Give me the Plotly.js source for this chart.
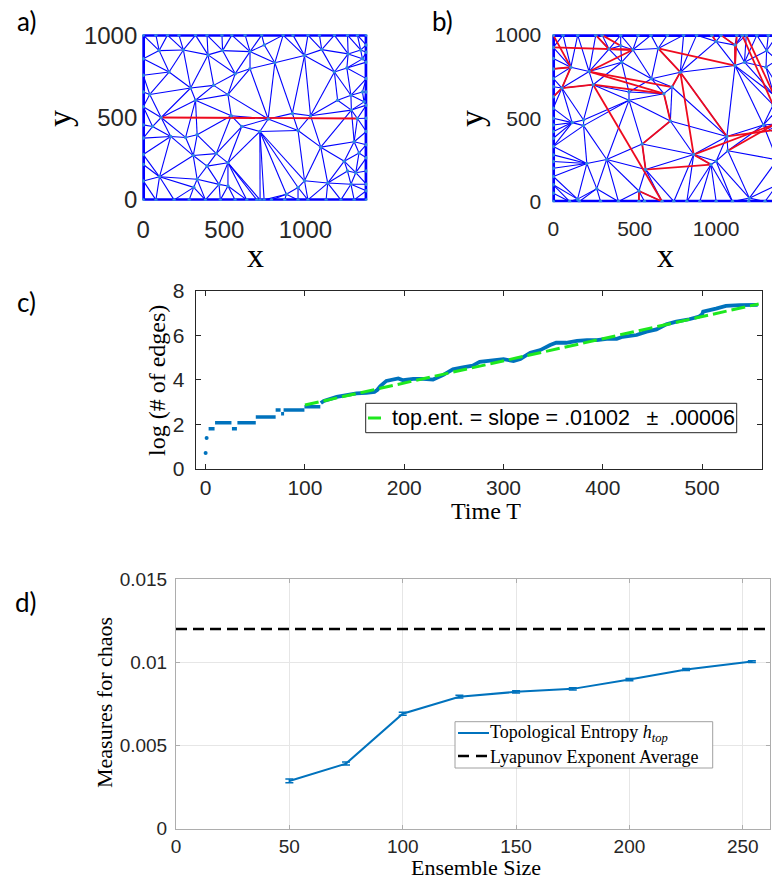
<!DOCTYPE html>
<html><head><meta charset="utf-8">
<script src="https://cdn.plot.ly/plotly-3.0.1.min.js"></script>
<style>html,body{margin:0;padding:0;background:#fff;}</style>
</head><body>
<div id="chart" style="width:772px;height:879px;"></div>
<script>
// ---------------- DATA ----------------
// Panel a: domain size and mesh vertices
const aW = 1375, aH = 1000;
const aInterior = [
 [98,906],[247,910],[399,880],[489,906],[658,900],[746,940],[811,832],[994,876],[1100,912],[1255,800],[1340,910],[1263,886],[1351,856],
 [159,776],[292,679],[434,695],[567,766],[658,796],[522,639],[322,605],[40,640],[1178,776],[1280,635],[1198,605],[1351,655],
 [110,500],[542,511],[770,491],[919,525],[1031,511],[1283,545],[1320,494],[1361,595],
 [57,445],[169,385],[261,379],[332,395],[607,445],[719,415],[954,421],[450,281],[308,269],[1094,320],[1300,353],[1239,235],[1330,285],
 [393,205],[522,225],[467,94],[332,125],[994,116],[1137,102],[1259,175],[1310,165],[1280,95],[954,75],[882,34],[522,84],[100,140],[311,76]
];
const aTopX    = [78,149,220,322,393,485,546,628,730,862,923,1015,1086,1178,1259,1320];
const aBottomX = [78,190,283,383,475,566,638,700,720,745,790,872,954,1015,1127,1218,1300];
const aLeftY   = [115,215,275,375,455,565,655,756,856];
const aRightY  = [55,95,175,255,335,415,495,575,655,736,836,896,940];
const aRedX = [110, 1320];
const aRedY = [500, 494];

// Panel b: domain size and mesh vertices
const bW = 1375, bH = 1000;
const bInterior = [
 [108,807],[53,682],[245,702],[220,781],[489,912],[679,648],[729,688],[719,484],[546,345],[567,192],[968,222],[644,920],[780,777],
 [862,282],[1066,391],[1072,305],[1116,817],[526,63],[342,916],[414,936],
 [116,474],[186,490],[186,456],[206,228],[328,252],[465,658],[465,609],[603,738],[420,837],[1174,837],[1306,807],[1310,906],
 [1290,460],[1204,20],[149,14],[267,77],[1000,242],[1360,465],[1365,430],[1350,580],[1355,640],[1000,962],[1116,940]
];
const bTopX    = [60,150,261,300,414,520,600,700,800,880,974,1030,1127,1160,1185,1250,1320];
const bBottomX = [100,160,290,400,526,560,668,740,820,900,1000,1100,1200,1300];
const bLeftY   = [50,100,150,200,240,280,330,380,420,460,500,560,629,690,740,797,860,926];
const bRightY  = [100,250,400,550,700,850];
const bRedPaths = [
 [[0,926],[489,912]],
 [[0,1000],[108,807],[53,682],[0,629]],
 [[0,797],[108,807]],
 [[53,682],[245,702],[679,648],[719,484],[546,345],[567,192],[968,222]],
 [[245,702],[668,0]],
 [[220,781],[489,912]],
 [[220,781],[729,688]],
 [[220,781],[679,648]],
 [[644,920],[1116,817]],
 [[644,920],[780,777],[729,688]],
 [[780,777],[862,282],[968,222]],
 [[780,777],[1066,391]],
 [[862,282],[1360,465]],
 [[1066,391],[1365,430]],
 [[1072,305],[1360,465]],
 [[974,1000],[1000,962]],
 [[1030,1000],[1116,940],[1116,817],[1127,1000]],
 [[1160,1000],[1350,580]],
 [[1185,1000],[1355,640]],
 [[526,63],[668,0]],
 [[526,63],[526,0]],
 [[261,1000],[342,916],[489,912]],
 [[300,1000],[414,936]]
];

// Panel c: log(# of edges) vs time
const cDotT = [0, 1];
const cDotV = [0.70, 1.38];
const cStepStart = [3, 9.5, 26.5, 32, 50.5, 70.5, 76, 78.5, 99.5];
const cStepEnd   = [9, 26, 31.5, 50.5, 70.5, 75.5, 79, 99.5, 115.5];
const cStepVal   = [1.79, 2.06, 1.79, 2.06, 2.32, 2.64, 2.47, 2.64, 2.78];
const cT = [116,119,125,132,142,152,162,170,173,176,182,189,194,199,209,219,229,239,249,259,269,276,290,300,310,317,327,337,347,353,363,374,384,394,404,414,420,434,444,454,464,474,487,497,500,501,514,524,538,548,556];
const cV = [2.95,3.05,3.13,3.23,3.31,3.39,3.41,3.45,3.55,3.72,3.95,4.00,4.06,3.98,4.04,4.04,4.01,4.21,4.47,4.56,4.64,4.81,4.89,4.93,4.85,4.94,5.22,5.34,5.57,5.67,5.67,5.76,5.79,5.79,5.85,5.85,5.94,6.02,6.17,6.27,6.50,6.62,6.73,6.85,6.95,7.07,7.21,7.33,7.37,7.37,7.38];
const cFitT = [100, 557];
const cFitV = [2.86, 7.42];
const cFitName = "top.ent. = slope = .01002 \u2002\u00b1\u2002.00006";

// Panel d: measures for chaos vs ensemble size
const dX   = [50, 75, 100, 125, 150, 175, 200, 225, 254];
const dY   = [0.00287, 0.00391, 0.00691, 0.00793, 0.00822, 0.00840, 0.00896, 0.00956, 0.01004];
const dErr = [0.00011, 0.00009, 0.00009, 0.00008, 0.00007, 0.00007, 0.00007, 0.00006, 0.00005];
const lyapX = [0, 262];
const lyapY = [0.012, 0.012];
const dName1 = "Topological Entropy <i>h<sub>top</sub></i>";
const dName2 = "Lyapunov Exponent Average";

// ---------------- HELPERS ----------------
function buildPoints(interior, topX, bottomX, leftY, rightY, W, H){
  const pts = [[0,0],[0,H],[W,0],[W,H]];
  topX.forEach(x=>pts.push([x,H]));
  bottomX.forEach(x=>pts.push([x,0]));
  leftY.forEach(y=>pts.push([0,y]));
  rightY.forEach(y=>pts.push([W,y]));
  interior.forEach(p=>pts.push(p));
  return pts;
}
function delaunayEdges(pts){
  const n = pts.length;
  const P = pts.map(p=>[p[0],p[1]]);
  let minX=Infinity,minY=Infinity,maxX=-Infinity,maxY=-Infinity;
  P.forEach(p=>{minX=Math.min(minX,p[0]);maxX=Math.max(maxX,p[0]);minY=Math.min(minY,p[1]);maxY=Math.max(maxY,p[1]);});
  const d=Math.max(maxX-minX,maxY-minY), mx=(minX+maxX)/2, my=(minY+maxY)/2;
  P.push([mx-40*d,my-30*d],[mx,my+40*d],[mx+40*d,my-30*d]);
  function circ(a,b,c){
    const ax=P[a][0],ay=P[a][1],bx=P[b][0],by=P[b][1],cx=P[c][0],cy=P[c][1];
    const D=2*(ax*(by-cy)+bx*(cy-ay)+cx*(ay-by));
    if(Math.abs(D)<1e-9) return {a,b,c,x:0,y:0,r2:Infinity};
    const A=ax*ax+ay*ay,B=bx*bx+by*by,C=cx*cx+cy*cy;
    const ux=(A*(by-cy)+B*(cy-ay)+C*(ay-by))/D;
    const uy=(A*(cx-bx)+B*(ax-cx)+C*(bx-ax))/D;
    return {a,b,c,x:ux,y:uy,r2:(ax-ux)*(ax-ux)+(ay-uy)*(ay-uy)};
  }
  let tris=[circ(n,n+1,n+2)];
  for(let i=0;i<n;i++){
    const px=P[i][0],py=P[i][1];
    const keep=[],ec=new Map();
    for(const t of tris){
      const dd=(px-t.x)*(px-t.x)+(py-t.y)*(py-t.y);
      if(dd<t.r2){
        [[t.a,t.b],[t.b,t.c],[t.c,t.a]].forEach(([u,v])=>{const k=u<v?u+','+v:v+','+u;ec.set(k,(ec.get(k)||0)+1);});
      } else keep.push(t);
    }
    tris=keep;
    for(const [k,c] of ec){ if(c===1){const [u,v]=k.split(',').map(Number); tris.push(circ(u,v,i));} }
  }
  const es=new Set();
  for(const t of tris){
    if(t.a>=n||t.b>=n||t.c>=n) continue;
    [[t.a,t.b],[t.b,t.c],[t.c,t.a]].forEach(([u,v])=>es.add(u<v?u+','+v:v+','+u));
  }
  return [...es].map(k=>k.split(',').map(Number));
}
function meshTraces(pts, W, H, xa, ya, redPaths){
  const edges = delaunayEdges(pts);
  const ix=[],iy=[],bx=[],by=[];
  edges.forEach(([u,v])=>{
    const p=pts[u],q=pts[v];
    const onB=(p[0]===0&&q[0]===0)||(p[0]===W&&q[0]===W)||(p[1]===0&&q[1]===0)||(p[1]===H&&q[1]===H);
    if(onB){bx.push(p[0],q[0],null);by.push(p[1],q[1],null);}
    else {ix.push(p[0],q[0],null);iy.push(p[1],q[1],null);}
  });
  const tr=[
    {x:ix,y:iy,xaxis:xa,yaxis:ya,mode:'lines',line:{color:'#0000ff',width:1.1},showlegend:false,hoverinfo:'skip'},
    {x:bx,y:by,xaxis:xa,yaxis:ya,mode:'lines',line:{color:'#0000ff',width:3.5},showlegend:false,hoverinfo:'skip'}
  ];
  const rx=[],ry=[];
  redPaths.forEach(path=>{path.forEach(p=>{rx.push(p[0]);ry.push(p[1]);});rx.push(null);ry.push(null);});
  tr.push({x:rx,y:ry,xaxis:xa,yaxis:ya,mode:'lines',line:{color:'#ee0a1e',width:1.8},showlegend:false,hoverinfo:'skip'});
  tr.push({x:pts.map(p=>p[0]),y:pts.map(p=>p[1]),xaxis:xa,yaxis:ya,mode:'markers',
    marker:{color:'#2f8ae0',size:3.5},showlegend:false,hoverinfo:'skip'});
  return tr;
}

// ---------------- TRACES ----------------
const aPts = buildPoints(aInterior, aTopX, aBottomX, aLeftY, aRightY, aW, aH);
const bPts = buildPoints(bInterior, bTopX, bBottomX, bLeftY, bRightY, bW, bH);
const traces = [];
meshTraces(aPts, aW, aH, 'x', 'y', [aRedX.map((x,i)=>[x,aRedY[i]])]).forEach(t=>traces.push(t));
meshTraces(bPts, bW, bH, 'x2', 'y2', bRedPaths).forEach(t=>traces.push(t));

// panel c
const sx=[],sy=[];
cStepStart.forEach((s,i)=>{sx.push(s,cStepEnd[i],null);sy.push(cStepVal[i],cStepVal[i],null);});
const cBlue='#0072BD';
const cGreen='#1ee81e';
traces.push({x:sx,y:sy,xaxis:'x3',yaxis:'y3',mode:'lines',line:{color:cBlue,width:3.5},showlegend:false,hoverinfo:'skip'});
traces.push({x:cT,y:cV,xaxis:'x3',yaxis:'y3',mode:'lines',line:{color:cBlue,width:3.8},showlegend:false,hoverinfo:'skip'});
traces.push({x:cDotT,y:cDotV,xaxis:'x3',yaxis:'y3',mode:'markers',marker:{color:cBlue,size:4},showlegend:false,hoverinfo:'skip'});
traces.push({x:cFitT,y:cFitV,xaxis:'x3',yaxis:'y3',mode:'lines',name:cFitName,showlegend:false,
  line:{color:cGreen,width:3,dash:'14px,5px'},hoverinfo:'skip'});

// panel d
traces.push({x:dX,y:dY,xaxis:'x4',yaxis:'y4',mode:'lines',name:dName1,showlegend:false,
  line:{color:'#0072BD',width:2},
  error_y:{type:'data',array:dErr,visible:true,color:'#0072BD',thickness:1.5,width:4},hoverinfo:'skip'});
traces.push({x:lyapX,y:lyapY,xaxis:'x4',yaxis:'y4',mode:'lines',name:dName2,showlegend:false,
  line:{color:'#000000',width:2.6,dash:'11px,6px'},hoverinfo:'skip'});

// ---------------- LAYOUT ----------------
const W=772,H=879;
const fx=p=>p/W, fy=p=>1-p/H;
const sans='Liberation Sans, Arial, sans-serif';
const serif='Liberation Serif, Times New Roman, serif';
const label='Lato, Liberation Sans, sans-serif';
const tc='#262626';
function meshAxis(dom, rng, size, standoff, anchor){
  return {domain:dom,range:rng,tickvals:[0,500,1000],ticktext:['0','500','1000'],showgrid:false,zeroline:false,
    showline:false,ticks:'',tickfont:{family:sans,size:size,color:tc},ticklabelstandoff:standoff,anchor:anchor,fixedrange:true};
}
function ann(text,px,py,size,family,angle,xanchor){
  return {text:text,x:fx(px),y:fy(py),xref:'paper',yref:'paper',xanchor:xanchor||'center',yanchor:'middle',
    showarrow:false,textangle:angle||0,borderpad:0,font:{family:family,size:size,color:'#000'}};
}
function rect(x0,y0,x1,y1,col){
  return {type:'rect',xref:'paper',yref:'paper',x0:fx(x0),x1:fx(x1),y0:fy(y1),y1:fy(y0),
    line:{color:col,width:1},fillcolor:'#fff',layer:'above'};
}
function seg(x0,x1,y,col,w,dash){
  return {type:'line',xref:'paper',yref:'paper',x0:fx(x0),x1:fx(x1),y0:fy(y),y1:fy(y),
    line:{color:col,width:w,dash:dash||'solid'},layer:'above'};
}
const layout={
  width:W,height:H,margin:{l:0,r:0,t:0,b:0},paper_bgcolor:'#fff',plot_bgcolor:'#fff',
  font:{family:sans,color:tc},hovermode:false,showlegend:false,
  xaxis: meshAxis([fx(142.3),fx(367.3)],[-6,1381],24,12,'y'),
  yaxis: meshAxis([fy(200.7),fy(34.3)],[-5,1005],24,4,'x'),
  xaxis2: meshAxis([fx(552.3),1],[-6,1343],21,12,'y2'),
  yaxis2: meshAxis([fy(202.3),fy(34.3)],[-5,1005],21,10,'x2'),
  xaxis3:{domain:[fx(195.7),fx(761.7)],range:[-10,560],tickvals:[0,100,200,300,400,500],anchor:'y3',
    showgrid:false,zeroline:false,showline:true,linecolor:tc,linewidth:1,mirror:'ticks',ticks:'inside',ticklen:5,
    tickcolor:tc,tickfont:{family:sans,size:21,color:tc},ticklabelstandoff:0},
  yaxis3:{domain:[fy(468.5),fy(291.1)],range:[0,8],tickvals:[0,2,4,6,8],anchor:'x3',
    showgrid:false,zeroline:false,showline:true,linecolor:tc,linewidth:1,mirror:'ticks',ticks:'inside',ticklen:5,
    tickcolor:tc,tickfont:{family:sans,size:21,color:tc},ticklabelstandoff:6},
  xaxis4:{domain:[fx(176),fx(770)],range:[0,262],tickvals:[0,50,100,150,200,250],anchor:'y4',
    showgrid:true,gridcolor:'#e6e6e6',zeroline:false,showline:true,linecolor:'#adadad',linewidth:1,mirror:'ticks',
    ticks:'inside',ticklen:4,tickcolor:'#adadad',tickfont:{family:sans,size:19,color:tc},ticklabelstandoff:0},
  yaxis4:{domain:[fy(828.7),fy(579)],range:[0,0.015],tickvals:[0,0.005,0.01,0.015],ticktext:['0','0.005','0.01','0.015'],anchor:'x4',
    showgrid:true,gridcolor:'#e6e6e6',zeroline:false,showline:true,linecolor:'#adadad',linewidth:1,mirror:'ticks',
    ticks:'inside',ticklen:4,tickcolor:'#adadad',tickfont:{family:sans,size:19,color:tc},ticklabelstandoff:4},
  shapes:[
    rect(365.7,403.3,736.7,432.7,tc),
    seg(368,381,418,cGreen,3),
    rect(455,721.7,712.7,768,'#a0a0a0'),
    seg(458,489,733,'#0072BD',2),
    seg(458,489,756,'#000000',2.6,'11px,7px')
  ],
  annotations:[
    ann('a)',26,21,26,label),
    ann('b)',442,21,26,label),
    ann('c)',26,302,26,label),
    ann('d)',26,602,26,label),
    ann('y',59,118,34,serif,-90),
    ann('x',255,255,34,serif),
    ann('y',471,118,34,serif,-90),
    ann('x',665,255,34,serif),
    ann('log (# of edges)',157,381,24,serif,-90),
    ann('Time T',486,511,24,serif),
    ann('Measures for chaos',104,703,22,serif,-90),
    ann('Ensemble Size',476,867,22,serif),
    ann(cFitName,391,418,21.5,sans,0,'left'),
    ann(dName1,489,733,18,serif,0,'left'),
    ann(dName2,489,756.5,18,serif,0,'left')
  ]
};
Plotly.newPlot('chart',traces,layout,{staticPlot:true,displayModeBar:false});
</script>
</body></html>
